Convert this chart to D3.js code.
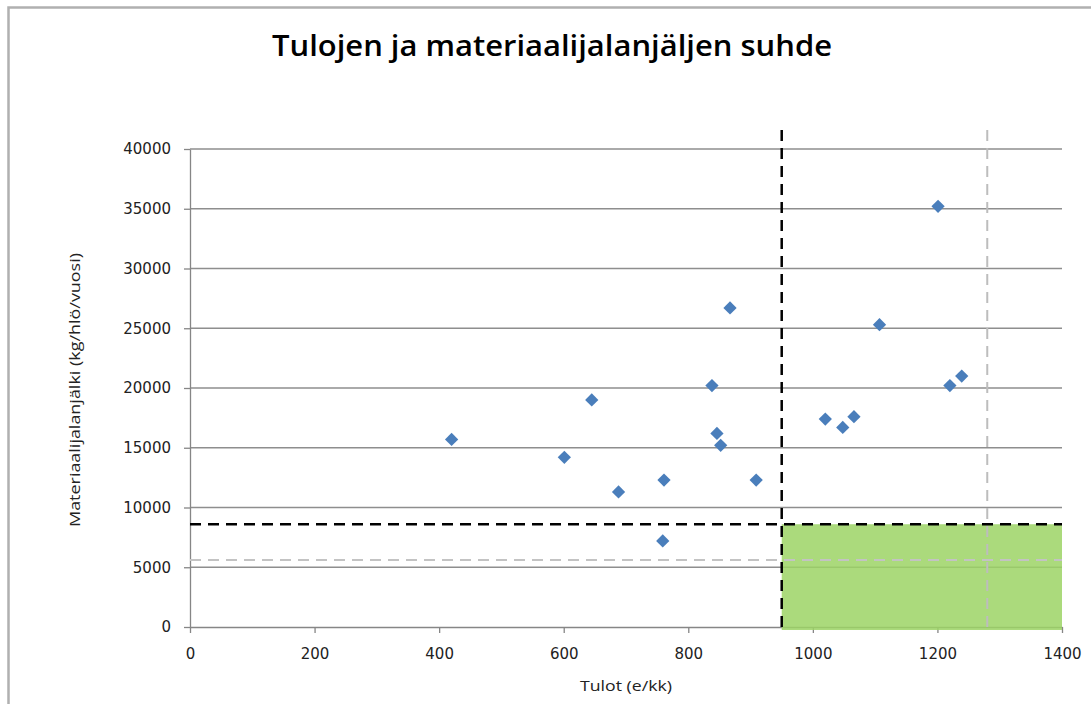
<!DOCTYPE html>
<html>
<head>
<meta charset="utf-8">
<script src="https://cdn.jsdelivr.net/npm/d3@7"></script>
<style>
  body { margin: 0; background: #fff; }
  svg { display: block; }
</style>
</head>
<body>
<div id="chart"></div>
<script>
const title = 'Tulojen ja materiaalijalanjäljen suhde'
const xTitle = 'Tulot (e/kk)'
const yTitle = 'Materiaalijalanjälki  (kg/hlö/vuosi)'

// income (e/kk)
const tulot = [420, 601, 645, 688, 761, 759, 838, 867, 846, 852, 909, 1020, 1048, 1066, 1107, 1201, 1220, 1239]
// material footprint (kg/person/year)
const jalanjalki = [15700, 14200, 19000, 11300, 12300, 7200, 20200, 26700, 16200, 15200, 12300, 17400, 16700, 17600, 25300, 35200, 20200, 21000]

const xTicks = [0, 200, 400, 600, 800, 1000, 1200, 1400]
const yTicks = [0, 5000, 10000, 15000, 20000, 25000, 30000, 35000, 40000]

// reference limits
const blackLimitX = 950
const blackLimitY = 8600
const greyLimitX = 1280
const greyLimitY = 5600
const refTop = 41600

const width = 1091
const height = 704
const margin = { top: 149, right: 29, bottom: 77, left: 190 }

const xScale = d3.scaleLinear()
  .domain([0, 1400])
  .range([margin.left, width - margin.right])

const yScale = d3.scaleLinear()
  .domain([0, 40000])
  .range([height - margin.bottom, margin.top])

const svg = d3.select('#chart')
  .append('svg')
  .attr('width', width)
  .attr('height', height)
  .attr('viewBox', [0, 0, width, height])

// chart border
svg.append('path')
  .attr('d', `M8.5,${height} V7.5 H${width}`)
  .attr('fill', 'none')
  .attr('stroke', '#b0b0b0')
  .attr('stroke-width', 2.5)

svg.append('text')
  .attr('x', 552)
  .attr('y', 56)
  .attr('text-anchor', 'middle')
  .attr('font-family', 'Open Sans, sans-serif')
  .attr('font-weight', 600)
  .attr('font-size', 29)
  .attr('textLength', 560)
  .attr('lengthAdjust', 'spacingAndGlyphs')
  .attr('fill', '#000')
  .text(title)

// gridlines
svg.append('g')
  .selectAll('line')
  .data(yTicks.slice(1))
  .join('line')
  .attr('x1', xScale(0))
  .attr('x2', xScale(1400))
  .attr('y1', d => yScale(d))
  .attr('y2', d => yScale(d))
  .attr('stroke', '#8e8e8e')
  .attr('stroke-width', 1.3)

const yAxis = g => g
  .attr('transform', `translate(${margin.left},0)`)
  .call(d3.axisLeft(yScale).tickValues(yTicks).tickFormat(d3.format('d')).tickSize(6).tickPadding(13).tickSizeOuter(0))
  .call(g => g.selectAll('line, path').attr('stroke', '#868686').attr('stroke-width', 1.3))
  .call(g => g.selectAll('text')
    .attr('font-family', 'DejaVu Sans, sans-serif')
    .attr('font-size', 15)
    .attr('fill', '#222'))

const xAxis = g => g
  .attr('transform', `translate(0,${height - margin.bottom})`)
  .call(d3.axisBottom(xScale).tickValues(xTicks).tickFormat(d3.format('d')).tickSize(6).tickPadding(15).tickSizeOuter(0))
  .call(g => g.selectAll('line, path').attr('stroke', '#868686').attr('stroke-width', 1.3))
  .call(g => g.selectAll('text')
    .attr('font-family', 'DejaVu Sans, sans-serif')
    .attr('font-size', 15)
    .attr('fill', '#222'))

svg.append('g').call(yAxis)
svg.append('g').call(xAxis)

// target zone
svg.append('rect')
  .attr('x', xScale(blackLimitX))
  .attr('y', yScale(blackLimitY))
  .attr('width', xScale(1400) - xScale(blackLimitX))
  .attr('height', yScale(0) - yScale(blackLimitY) + 3)
  .attr('fill', '#9cd465')
  .attr('fill-opacity', 0.85)

// grey reference lines
svg.append('line')
  .attr('x1', xScale(0)).attr('x2', xScale(1400))
  .attr('y1', yScale(greyLimitY)).attr('y2', yScale(greyLimitY))
  .attr('stroke', '#c3c3c3')
  .attr('stroke-width', 2)
  .attr('stroke-dasharray', '11,7')

svg.append('line')
  .attr('x1', xScale(greyLimitX)).attr('x2', xScale(greyLimitX))
  .attr('y1', yScale(0)).attr('y2', yScale(refTop))
  .attr('stroke', '#bdbdbd')
  .attr('stroke-width', 2)
  .attr('stroke-dasharray', '11,7')

// black reference lines
svg.append('line')
  .attr('x1', xScale(0)).attr('x2', xScale(1400))
  .attr('y1', yScale(blackLimitY)).attr('y2', yScale(blackLimitY))
  .attr('stroke', '#000')
  .attr('stroke-width', 2.5)
  .attr('stroke-dasharray', '11,7')

svg.append('line')
  .attr('x1', xScale(blackLimitX)).attr('x2', xScale(blackLimitX))
  .attr('y1', yScale(0)).attr('y2', yScale(refTop))
  .attr('stroke', '#000')
  .attr('stroke-width', 2.5)
  .attr('stroke-dasharray', '11,7')

// points
const points = tulot.map((t, i) => ({ x: t, y: jalanjalki[i] }))
const diamond = d3.symbol().type(d3.symbolSquare).size(88)

svg.append('g')
  .selectAll('path')
  .data(points)
  .join('path')
  .attr('d', diamond)
  .attr('transform', d => `translate(${xScale(d.x)},${yScale(d.y)}) rotate(45)`)
  .attr('fill', '#4a7ebb')

svg.append('text')
  .attr('x', 626)
  .attr('y', 691)
  .attr('text-anchor', 'middle')
  .attr('font-family', 'Open Sans, sans-serif')
  .attr('font-size', 15)
  .attr('textLength', 92)
  .attr('lengthAdjust', 'spacingAndGlyphs')
  .attr('fill', '#222')
  .text(xTitle)

svg.append('text')
  .attr('transform', 'translate(80,390) rotate(-90)')
  .attr('text-anchor', 'middle')
  .attr('font-family', 'Open Sans, sans-serif')
  .attr('font-size', 15)
  .attr('textLength', 274)
  .attr('lengthAdjust', 'spacingAndGlyphs')
  .attr('fill', '#222')
  .text(yTitle)
</script>
</body>
</html>
